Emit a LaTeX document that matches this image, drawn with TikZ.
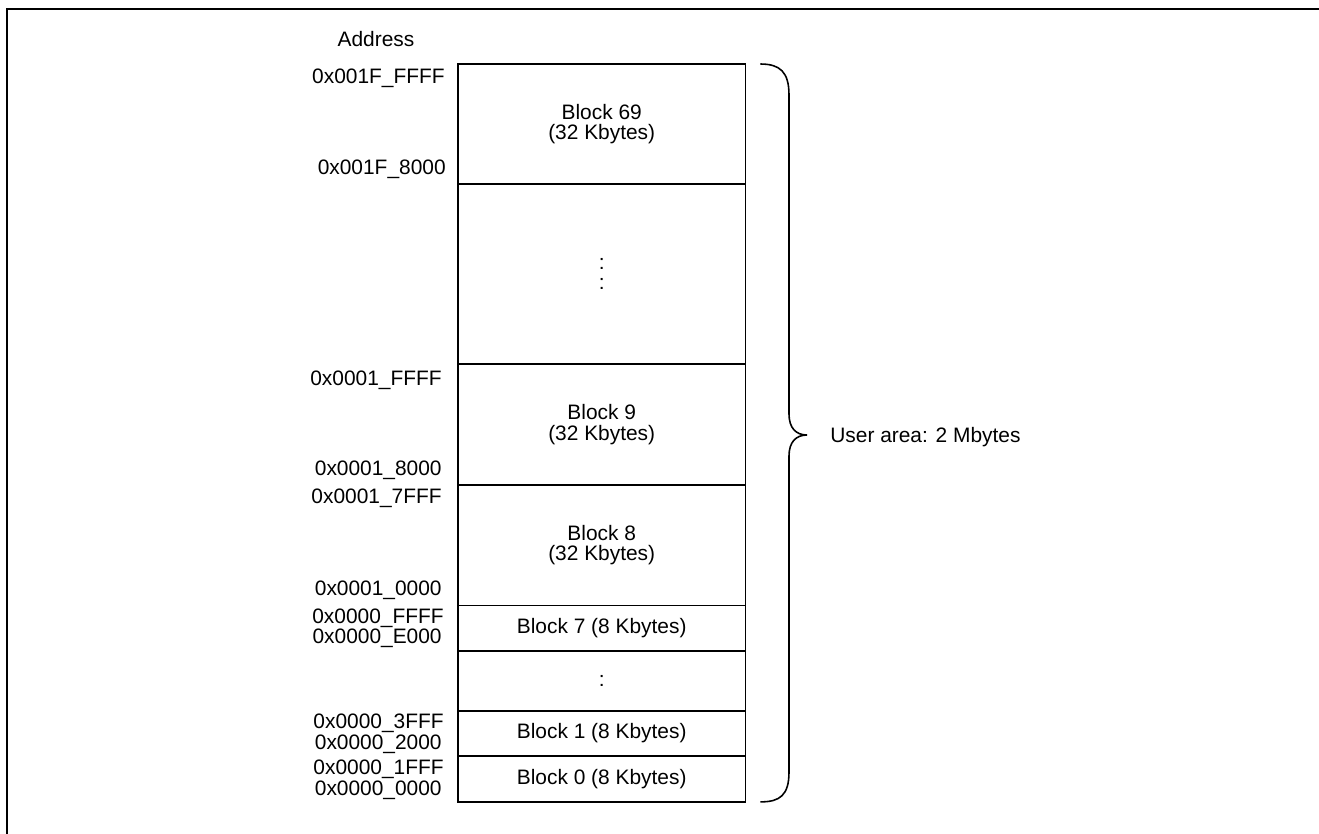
\documentclass[tikz,border=0pt]{standalone}
\usepackage{fontspec}
\setmainfont{Liberation Sans}
\usepackage{tikz}
\usetikzlibrary{positioning,calc}

\begin{document}
\begin{tikzpicture}[
  x=0.02cm, y=-0.02cm,
  blk/.style={draw, rectangle, line width=1pt, minimum width=5.75cm, inner sep=0pt, outer sep=0pt, align=center, font=\fontsize{11.9}{11.7}\selectfont},
  addr/.style={anchor=base east, inner sep=0pt, font=\fontsize{11.9}{11.7}\selectfont},
  lbl/.style={inner sep=0pt, font=\fontsize{11.9}{11.7}\selectfont}
]
\useasboundingbox (0,0) rectangle (1319,833);

% Frame (only top and left edges inside the page)
\draw[line width=1.5pt] (7,850) -- (7,9) -- (1340,9);

% Memory blocks, top to bottom
\node[blk, minimum height=2.4cm, anchor=north west] (b69) at (458,64) {Block 69\\(32 Kbytes)};
\node[blk, minimum height=3.6cm, below=0pt of b69] (vdots) {\fontsize{11.9}{12.5}\selectfont :\\:};
\node[blk, minimum height=2.42cm, below=0pt of vdots] (b9) {Block 9\\(32 Kbytes)};
\node[blk, minimum height=2.41cm, below=0pt of b9] (b8) {Block 8\\(32 Kbytes)};
\node[blk, minimum height=0.91cm, below=0pt of b8] (b7) {Block 7 (8 Kbytes)};
\node[blk, minimum height=1.2cm, below=0pt of b7] (hdots) {:};
\node[blk, minimum height=0.9cm, below=0pt of hdots] (b1) {Block 1 (8 Kbytes)};
\node[blk, minimum height=0.92cm, below=0pt of b1] (b0) {Block 0 (8 Kbytes)};

% Addresses
\node[lbl, anchor=base] (addr) at (376,46.5) {Address};
\node[addr] (a1fffff) at (445,83.5) {0x001F\_FFFF};
\node[addr] (a1f8000) at (446,174) {0x001F\_8000};
\node[addr] (a1ffff) at (442,385) {0x0001\_FFFF};
\node[addr] (a18000) at (442,475) {0x0001\_8000};
\node[addr] (a17fff) at (442,503.3) {0x0001\_7FFF};
\node[addr] (a10000) at (442,595) {0x0001\_0000};
\node[addr] (affff) at (444,623.3) {0x0000\_FFFF};
\node[addr] (ae000) at (442,643.3) {0x0000\_E000};
\node[addr] (a3fff) at (444,728.3) {0x0000\_3FFF};
\node[addr] (a2000) at (442,749.3) {0x0000\_2000};
\node[addr] (a1fff) at (444,774) {0x0000\_1FFF};
\node[addr] (a0000) at (442,795) {0x0000\_0000};

% Brace over the user area
\coordinate (brtop) at ($(b69.north east)+(15,0)$);
\coordinate (brbot) at ($(b0.south east)+(15,0)$);
\coordinate (brtip) at (807,435);
\draw[line width=0.9pt] (brtop) .. controls (780,64) and (789,72) .. (789,95)
  -- (789,414) .. controls (789,428) and (796,435) .. (brtip)
  .. controls (796,435) and (789,442) .. (789,456)
  -- (789,772) .. controls (789,795) and (780,802) .. (brbot);
\node[lbl, anchor=base west] (area) at (830,442.5) {User area: 2 Mbytes};

\end{tikzpicture}
\end{document}
